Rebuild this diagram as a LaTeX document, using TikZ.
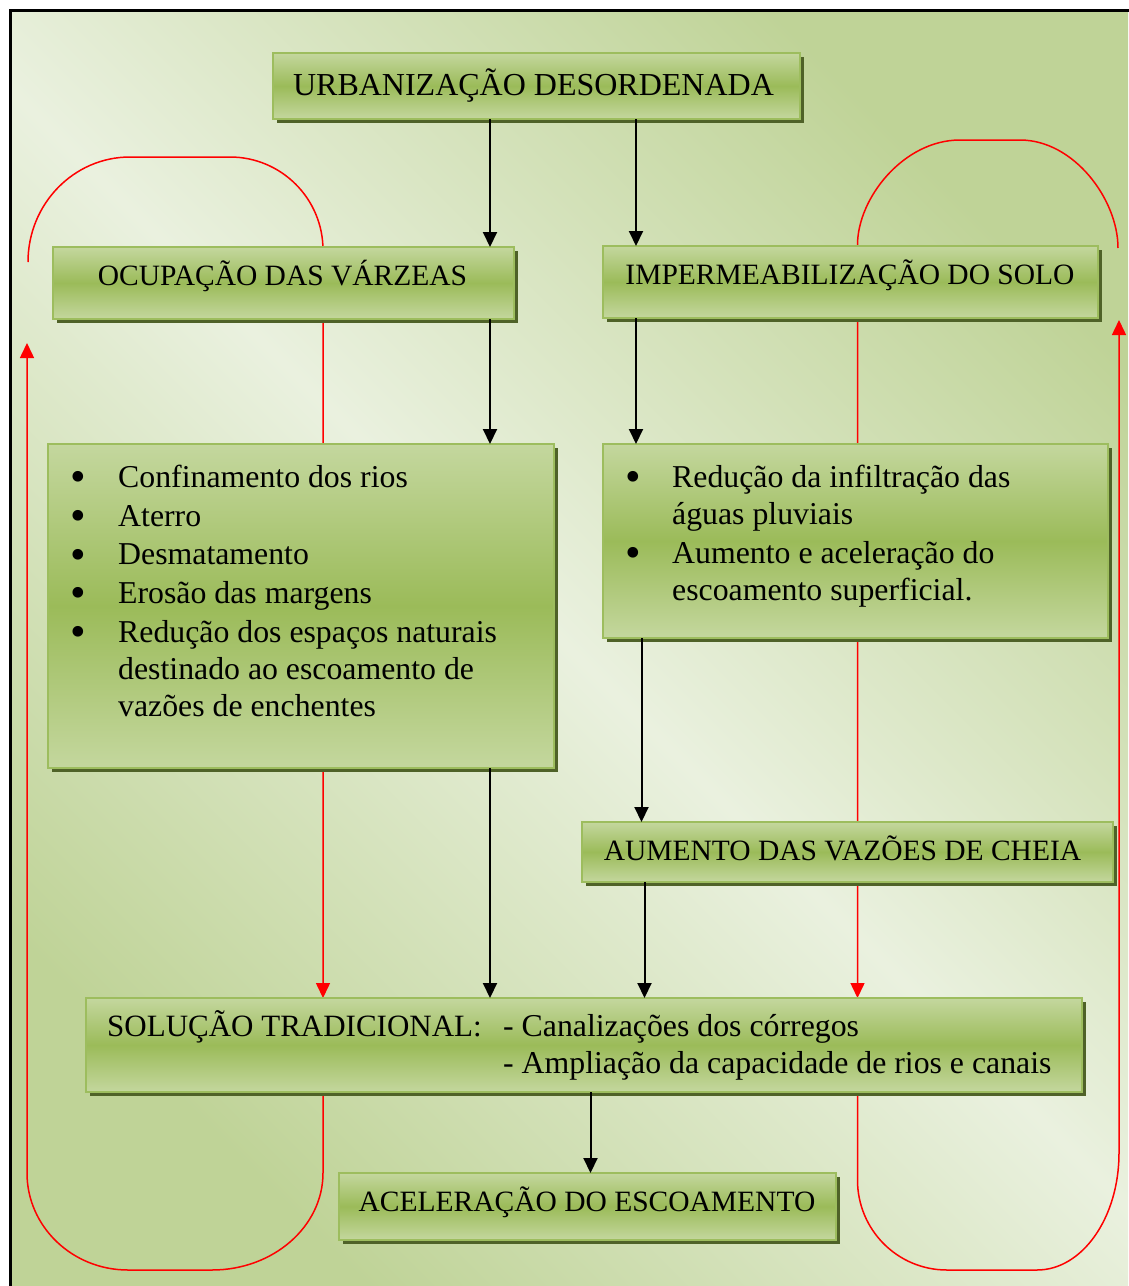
\documentclass[tikz,border=0pt]{standalone}
\usepackage{fontspec}
\setmainfont{Liberation Serif}
\usetikzlibrary{arrows.meta,shadows}
\pgfdeclarelayer{bg}
\pgfsetlayers{bg,main}
\definecolor{bglight}{HTML}{EAF1DF}
\definecolor{bgdark}{HTML}{BFD397}
\definecolor{boxlight}{HTML}{C4D79E}
\definecolor{boxmid}{HTML}{9BBB59}
\definecolor{boxedge}{HTML}{9DBD5E}
\definecolor{shadowc}{HTML}{4F6228}
\newcommand{\bdot}{\raisebox{-4.5pt}[0pt][0pt]{\scalebox{1.4}{\textbullet}}}
\begin{document}
\begin{tikzpicture}[x=1pt,y=-1pt,
  box/.style={rectangle, inner sep=0pt, outer sep=0pt, draw=boxedge, line width=2pt,
    top color=boxlight, bottom color=boxlight, middle color=boxmid,
    drop shadow={shadow xshift=4pt, shadow yshift=-4pt, fill=shadowc, opacity=1}},
  ttl/.style={anchor=base, inner sep=0pt, font=\fontsize{29.5}{35}\selectfont},
  lst/.style={anchor=base west, inner sep=0pt, font=\fontsize{31.8}{37.2}\selectfont},
  tip/.style={-{Triangle[width=14pt,length=15pt]}},
  blk/.style={draw=black, line width=2pt, tip},
  redl/.style={draw=red, line width=1.5pt},
  redarr/.style={redl, tip}]
\useasboundingbox (0,0) rectangle (1128,1286);

% boxes
\node[box, minimum width=527pt, minimum height=66pt] (urb) at (536.5,86) {};
\node[box, minimum width=461pt, minimum height=72pt] (ocup) at (283.5,283) {};
\node[box, minimum width=495pt, minimum height=72pt] (imp) at (850.5,282) {};
\node[box, minimum width=506pt, minimum height=324pt] (lb) at (301,606) {};
\node[box, minimum width=505pt, minimum height=194pt] (rb) at (855.5,541) {};
\node[box, minimum width=531pt, minimum height=60pt] (aum) at (847.5,852) {};
\node[box, minimum width=996pt, minimum height=94pt] (sol) at (584,1045) {};
\node[box, minimum width=497pt, minimum height=67pt] (acel) at (587.5,1206.5) {};

% texts
\node[ttl, font=\fontsize{32}{38}\selectfont] (urbt) at (533.5,95) {URBANIZAÇÃO DESORDENADA};
\node[ttl] (ocupt) at (282.5,285) {OCUPAÇÃO DAS VÁRZEAS};
\node[ttl] (impt) at (850,284.5) {IMPERMEABILIZAÇÃO DO SOLO};
\node[ttl] (aumt) at (842.5,860) {AUMENTO DAS VAZÕES DE CHEIA};
\node[ttl] (acelt) at (587,1211.7) {ACELERAÇÃO DO ESCOAMENTO};

\node[lst] (lbt) at (70,487.3) {\begin{tabular}[t]{@{}p{48pt}@{}l@{}}
\bdot & Confinamento dos rios\\[1.5pt]
\bdot & Aterro\\[1.5pt]
\bdot & Desmatamento\\[1.5pt]
\bdot & Erosão das margens\\[1.5pt]
\bdot & Redução dos espaços naturais\\
      & destinado ao escoamento de\\
      & vazões de enchentes
\end{tabular}};

\node[lst] (rbt) at (625,487) {\begin{tabular}[t]{@{}p{47pt}@{}l@{}}
\bdot & Redução da infiltração das\\
      & águas pluviais\\[2pt]
\bdot & Aumento e aceleração do\\
      & escoamento superficial.
\end{tabular}};

\node[lst, font=\fontsize{31.8}{36.6}\selectfont] (solt) at (107,1036.7)
 {\begin{tabular}[t]{@{}p{396pt}@{}l@{}}
  {\fontsize{31}{36.6}\selectfont SOLUÇÃO TRADICIONAL:} & - Canalizações dos córregos\\
                       & - Ampliação da capacidade de rios e canais
  \end{tabular}};

% black connectors
\coordinate (c1) at (490,0);
\coordinate (c2) at (636,0);
\coordinate (c3) at (641.5,0);
\coordinate (c4) at (644.5,0);
\coordinate (c5) at (590.5,0);
\draw[blk] (urb.south -| c1) -- (ocup.north -| c1);
\draw[blk] (urb.south -| c2) -- (imp.north -| c2);
\draw[blk] (ocup.south -| c1) -- (lb.north -| c1);
\draw[blk] (imp.south -| c2) -- (rb.north -| c2);
\draw[blk] (rb.south -| c3) -- (aum.north -| c3);
\draw[blk] (lb.south -| c1) -- (sol.north -| c1);
\draw[blk] (aum.south -| c4) -- (sol.north -| c4);
\draw[blk] (sol.south -| c5) -- (acel.north -| c5);

\begin{pgfonlayer}{bg}
  \fill[white] (0,0) rectangle (1128,1286);
  \begin{scope}
    \clip (10,10) rectangle (1128,1286);
    \shade[top color=bgdark, bottom color=bgdark, middle color=bglight, shading angle=-45]
      (10,10) rectangle (1128,1286);
  \end{scope}
  \draw[line width=2.5pt] (10.5,1300) -- (10.5,10.5) -- (1140,10.5);

  \coordinate (lx) at (323,0);
  \coordinate (rx) at (857.5,0);
  \coordinate (lfree) at (28,262);
  \coordinate (lend) at (27,343);
  \coordinate (rfree) at (1118,248);
  \coordinate (rend) at (1119,320);
  % left loop
  \draw[redarr] (lfree) .. controls (28,204) and (73.7,157) .. (130,157) -- (230,157)
     .. controls (281.3,157) and (323,198.7) .. (323,250) -- (sol.north -| lx);
  \draw[redarr] (sol.south -| lx) -- (323,1173) .. controls (323,1226.5) and (273.3,1270) .. (212,1270)
     -- (128,1270) .. controls (72.2,1270) and (27,1226.5) .. (27,1173) -- (lend);
  % right loop
  \draw[redarr] (rfree) .. controls (1118,199.6) and (1074,140) .. (1020,140) -- (960,140)
     .. controls (903.7,140) and (857.5,198) .. (857.5,245) -- (sol.north -| rx);
  \draw[redarr] (sol.south -| rx) -- (857.5,1180) .. controls (857.5,1229.7) and (897.3,1270) .. (947,1270)
     -- (1037,1270) .. controls (1082.3,1270) and (1119,1217.6) .. (1119,1153) -- (rend);
\end{pgfonlayer}
\end{tikzpicture}
\end{document}
